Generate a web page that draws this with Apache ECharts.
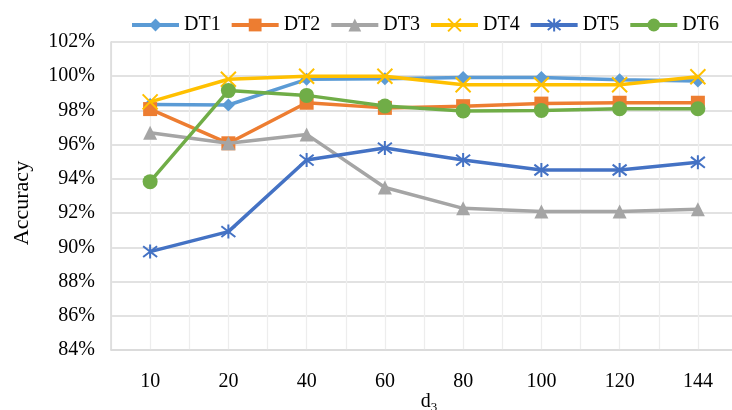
<!DOCTYPE html>
<html>
<head>
<meta charset="utf-8">
<script src="https://cdn.jsdelivr.net/npm/echarts@6/dist/echarts.min.js"></script>
<style>
html,body{margin:0;padding:0;background:#fff;}
#chart{width:732px;height:410px;}
</style>
</head>
<body>
<div id="chart"></div>
<script>
const categories = ['10','20','40','60','80','100','120','144'];
const seriesNames = ['DT1','DT2','DT3','DT4','DT5','DT6'];
const dt1 = [98.35, 98.32, 99.82, 99.85, 99.92, 99.92, 99.8, 99.72];
const dt2 = [98.08, 96.08, 98.45, 98.15, 98.25, 98.4, 98.45, 98.45];
const dt3 = [96.7, 96.08, 96.6, 93.5, 92.28, 92.1, 92.1, 92.22];
const dt4 = [98.5, 99.82, 100.0, 100.0, 99.5, 99.5, 99.5, 99.97];
const dt5 = [89.75, 90.92, 95.1, 95.8, 95.1, 94.52, 94.52, 94.97];
const dt6 = [93.84, 99.16, 98.88, 98.26, 97.97, 98.0, 98.1, 98.1];
const yTicks = [84, 86, 88, 90, 92, 94, 96, 98, 100, 102];

const FONT = "'Liberation Serif','Times New Roman',serif";
const colors = ['#5B9BD5','#ED7D31','#A5A5A5','#FFC000','#4472C4','#70AD47'];
const allData = [dt1, dt2, dt3, dt4, dt5, dt6];
const symbols = [
  {symbol:'diamond', size:13, filled:true},
  {symbol:'rect', size:14, filled:true},
  {symbol:'triangle', size:14, filled:true},
  {symbol:'path://M0,0L10,10M10,0L0,10', size:15, filled:false},
  {symbol:'path://M0,0L10,10M10,0L0,10M5,-1.5L5,11.5', size:14, filled:false},
  {symbol:'circle', size:15, filled:true}
];

const series = allData.map((d, i) => ({
  name: seriesNames[i],
  type: 'line',
  xAxisIndex: 0,
  yAxisIndex: 0,
  data: d,
  symbol: symbols[i].symbol,
  symbolSize: symbols[i].size,
  showAllSymbol: true,
  lineStyle: {color: colors[i], width: 3.5},
  itemStyle: symbols[i].filled
    ? {color: colors[i], borderColor: colors[i], borderWidth: 0}
    : {color: 'rgba(0,0,0,0)', borderColor: colors[i], borderWidth: 2},
  emphasis: {disabled: true},
  z: 2 + i
}));

const chart = echarts.init(document.getElementById('chart'), null, {renderer: 'canvas'});
chart.setOption({
  animation: false,
  backgroundColor: '#fff',
  textStyle: {fontFamily: FONT},
  color: colors,
  legend: {
    data: seriesNames,
    left: 125,
    top: 10,
    itemWidth: 47,
    itemHeight: 16,
    itemGap: 9,
    lineStyle: {width: 4},
    textStyle: {fontFamily: FONT, fontSize: 20, color: '#000'}
  },
  grid: {left: 111, top: 42, width: 626, height: 308, containLabel: false, outerBoundsMode: 'none'},
  xAxis: [{
    type: 'category',
    data: categories,
    boundaryGap: true,
    name: '{a|d}{b|3}',
    nameLocation: 'middle',
    nameGap: 42,
    nameMoveOverlap: false,
    nameTextStyle: {
      padding: [0, 0, 0, 10],
      rich: {
        a: {fontFamily: FONT, fontSize: 20, color: '#000', lineHeight: 22, verticalAlign: 'top'},
        b: {fontFamily: FONT, fontSize: 13, color: '#000', lineHeight: 12, verticalAlign: 'bottom'}
      }
    },
    axisLine: {show: true, lineStyle: {color: '#D9D9D9', width: 1.5}},
    axisTick: {show: false},
    axisLabel: {fontFamily: FONT, fontSize: 20, color: '#000', margin: 22},
    splitLine: {show: false}
  }, {
    type: 'value',
    min: 0,
    max: 16,
    interval: 1,
    show: true,
    axisLine: {show: false},
    axisTick: {show: false},
    axisLabel: {show: false},
    splitLine: {show: true, lineStyle: {color: '#EDEDED', width: 1.3}},
    z: 0
  }],
  yAxis: {
    type: 'value',
    min: 84,
    max: 102,
    interval: 2,
    name: 'Accuracy',
    nameLocation: 'middle',
    nameGap: 78,
    nameTextStyle: {fontFamily: FONT, fontSize: 22, color: '#000', padding: [0, 14, 0, 0]},
    axisLine: {show: true, lineStyle: {color: '#D9D9D9', width: 1.5}},
    axisTick: {show: false},
    axisLabel: {
      fontFamily: FONT, fontSize: 20, color: '#000', margin: 16,
      formatter: v => (yTicks.indexOf(v) >= 0 ? v + '%' : '')
    },
    splitLine: {show: true, lineStyle: {color: '#D9D9D9', width: 1.5}}
  },
  series: series
});
</script>
</body>
</html>
